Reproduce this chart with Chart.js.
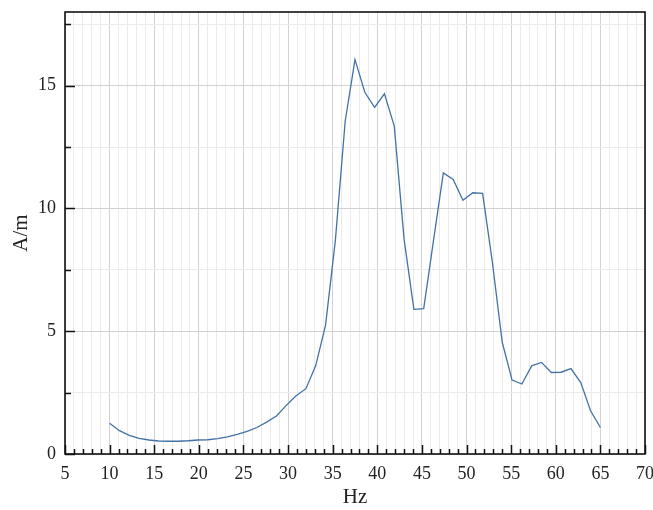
<!DOCTYPE html>
<html>
<head>
<meta charset="utf-8">
<script src="https://cdn.jsdelivr.net/npm/chart.js@4/dist/chart.umd.min.js"></script>
<style>
html,body{margin:0;padding:0;background:#fff;}
#c{display:block;}
</style>
</head>
<body>
<canvas id="c" width="653" height="510"></canvas>
<script>
const hz = [10, 11.1, 12.2, 13.3, 14.4, 15.5, 16.6, 17.7, 18.8, 19.9, 21, 22.1, 23.2, 24.3, 25.4, 26.5, 27.6, 28.7, 29.8, 30.9, 32, 33.1, 34.2, 35.3, 36.4, 37.5, 38.6, 39.7, 40.8, 41.9, 43, 44.1, 45.2, 46.3, 47.4, 48.5, 49.6, 50.7, 51.8, 52.9, 54, 55.1, 56.2, 57.3, 58.4, 59.5, 60.6, 61.7, 62.8, 63.9, 65];
const field = [1.25, 0.95, 0.76, 0.64, 0.57, 0.53, 0.52, 0.52, 0.54, 0.57, 0.58, 0.63, 0.70, 0.80, 0.92, 1.08, 1.30, 1.55, 1.98, 2.37, 2.66, 3.6, 5.25, 8.7, 13.55, 16.06, 14.73, 14.12, 14.67, 13.35, 8.75, 5.89, 5.92, 8.7, 11.45, 11.18, 10.33, 10.64, 10.61, 7.8, 4.55, 3.01, 2.85, 3.59, 3.73, 3.32, 3.33, 3.48, 2.91, 1.76, 1.08];
const xLabels = [5, 10, 15, 20, 25, 30, 35, 40, 45, 50, 55, 60, 65, 70];
const yLabels = [0, 5, 10, 15];
const xTitle = 'Hz';
const yTitle = 'A/m';

const FONT = '"Liberation Serif", "Times New Roman", serif';

const framePlugin = {
  id: 'frame',
  afterDraw(chart) {
    const {ctx, chartArea: a, scales} = chart;
    ctx.save();
    ctx.strokeStyle = '#111';
    ctx.lineWidth = 1.5;
    scales.x.ticks.forEach(t => {
      const px = Math.round(scales.x.getPixelForValue(t.value)) + 0.5;
      const len = (t.value % 5 === 0) ? 9 : 5;
      ctx.beginPath();
      ctx.moveTo(px, a.bottom);
      ctx.lineTo(px, a.bottom - len);
      ctx.stroke();
    });
    scales.y.ticks.forEach(t => {
      const py = Math.round(scales.y.getPixelForValue(t.value)) + 0.5;
      const len = (t.value % 5 === 0) ? 10 : 6;
      ctx.beginPath();
      ctx.moveTo(a.left, py);
      ctx.lineTo(a.left + len, py);
      ctx.stroke();
    });
    ctx.lineWidth = 1.6;
    ctx.strokeRect(a.left, a.top, a.right - a.left, a.bottom - a.top);
    ctx.restore();
  }
};

new Chart(document.getElementById('c'), {
  type: 'line',
  data: {
    datasets: [{
      data: hz.map((x, i) => ({x: x, y: field[i]})),
      borderColor: '#4272a6',
      borderWidth: 1.3,
      pointRadius: 0,
      tension: 0,
      fill: false
    }]
  },
  options: {
    responsive: false,
    animation: false,
    layout: {padding: {top: 12, right: 8, left: 0, bottom: 0}},
    plugins: {legend: {display: false}, tooltip: {enabled: false}},
    scales: {
      x: {
        type: 'linear',
        min: 5, max: 70,
        afterFit(s) { s.height = 56; s.paddingLeft = 0; s.paddingRight = 0; },
        border: {display: false},
        grid: {
          drawTicks: false,
          color: c => (c.tick && xLabels.includes(c.tick.value)) ? '#d2d2d2' : '#ebebeb',
          lineWidth: 1
        },
        ticks: {
          stepSize: 1,
          autoSkip: false,
          maxRotation: 0,
          padding: 9,
          color: '#222',
          font: {family: FONT, size: 18},
          callback: v => xLabels.includes(v) ? String(v) : ''
        },
        title: {
          display: true, text: xTitle, color: '#222',
          font: {family: FONT, size: 21},
          padding: {top: 0, bottom: 0}
        }
      },
      y: {
        min: 0, max: 18,
        afterFit(s) { s.width = 65; s.paddingTop = 0; s.paddingBottom = 0; },
        border: {display: false},
        grid: {
          drawTicks: false,
          color: c => (c.tick && yLabels.includes(c.tick.value)) ? '#d2d2d2' : '#ebebeb',
          lineWidth: 1
        },
        ticks: {
          stepSize: 2.5,
          includeBounds: false,
          padding: 9,
          color: '#222',
          font: {family: FONT, size: 18},
          callback: v => yLabels.includes(v) ? String(v) : ''
        },
        title: {
          display: true, text: yTitle, color: '#222',
          font: {family: FONT, size: 21},
          padding: {top: 9, bottom: 0}
        }
      }
    }
  },
  plugins: [framePlugin]
});
</script>
</body>
</html>
